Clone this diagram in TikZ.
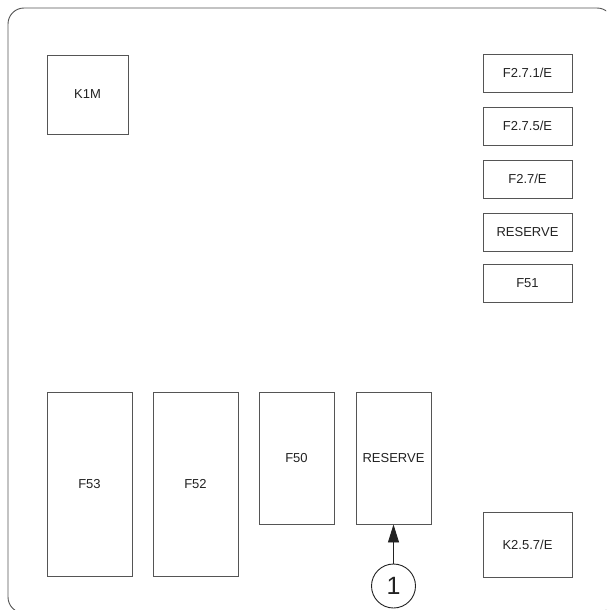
\documentclass[tikz,border=0pt]{standalone}
\usepackage{fontspec}
\setmainfont{Liberation Sans}
\usetikzlibrary{arrows.meta}
\definecolor{edge}{HTML}{555555}
\definecolor{txt}{HTML}{222222}
\tikzset{
  fuse/.style={draw=edge, line width=0.9pt, inner sep=0pt, font=\fontsize{13}{15}\selectfont, text=txt},
}
\begin{document}
\begin{tikzpicture}[x=1pt,y=-1pt]
\useasboundingbox (0,0) rectangle (606,610);
\begin{scope}
\clip (0,0) rectangle (606,610);
\draw[edge, line width=0.9pt, rounded corners=16pt] (8,8) rectangle (613,613);
\end{scope}
% K1M
\node[fuse, minimum width=81pt, minimum height=79pt] (k1m) at (87.5,94.5) {K1M};
% right column
\node[fuse, minimum width=89pt, minimum height=38pt] (f271) at (527.5,73) {F2.7.1/E};
\node[fuse, minimum width=89pt, minimum height=38pt] (f275) at (527.5,126) {F2.7.5/E};
\node[fuse, minimum width=89pt, minimum height=38pt] (f27) at (527.5,179) {F2.7/E};
\node[fuse, minimum width=89pt, minimum height=38pt] (res1) at (527.5,232) {RESERVE};
\node[fuse, minimum width=89pt, minimum height=38pt] (f51) at (527.5,283) {F51};
% bottom row
\node[fuse, minimum width=85pt, minimum height=184pt] (f53) at (89.5,484) {F53};
\node[fuse, minimum width=85pt, minimum height=184pt] (f52) at (195.5,484) {F52};
\node[fuse, minimum width=75pt, minimum height=132pt] (f50) at (296.5,458) {F50};
\node[fuse, minimum width=75pt, minimum height=132pt] (res2) at (393.5,458) {RESERVE};
\node[fuse, minimum width=89pt, minimum height=65pt] (k257) at (527.5,544.5) {K2.5.7/E};
% callout
\node[draw=txt, circle, line width=0.9pt, minimum size=44pt, inner sep=0pt, font=\fontsize{25}{27}\selectfont, text=txt] (c1) at (393.5,586) {1};
\draw[txt, line width=0.9pt, -{Triangle[length=18pt,width=11pt]}] (c1) -- (res2);
\end{tikzpicture}
\end{document}
